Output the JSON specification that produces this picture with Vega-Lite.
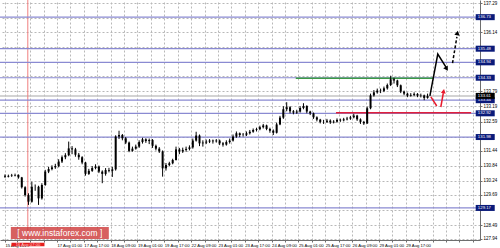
{
  "$schema": "https://vega.github.io/schema/vega-lite/v6.json",
  "width": 480,
  "height": 240,
  "autosize": {"type": "none"},
  "padding": {"left": 0, "top": 0, "right": 20, "bottom": 8},
  "background": "white",
  "config": {"view": {"stroke": null}, "font": "Liberation Sans"},
  "resolve": {"axis": {"x": "independent", "y": "independent"}},
  "datasets": {
    "candles": [
      {"t":0,"o":130.45,"h":130.50,"l":130.36,"c":130.41},
      {"t":2,"o":130.41,"h":130.49,"l":130.38,"c":130.44},
      {"t":4,"o":130.44,"h":130.52,"l":130.40,"c":130.46},
      {"t":6,"o":130.46,"h":130.53,"l":130.42,"c":130.48},
      {"t":8,"o":130.48,"h":130.50,"l":130.33,"c":130.38},
      {"t":10,"o":130.38,"h":130.40,"l":129.94,"c":129.99},
      {"t":12,"o":129.99,"h":130.03,"l":129.62,"c":129.68},
      {"t":14,"o":129.68,"h":129.75,"l":129.29,"c":129.42},
      {"t":16,"o":129.42,"h":130.21,"l":129.38,"c":130.01},
      {"t":18,"o":130.01,"h":130.10,"l":129.85,"c":130.01},
      {"t":20,"o":130.01,"h":130.05,"l":129.29,"c":129.55},
      {"t":22,"o":129.55,"h":130.15,"l":129.50,"c":130.08},
      {"t":24,"o":130.08,"h":130.68,"l":130.05,"c":130.61},
      {"t":26,"o":130.61,"h":130.80,"l":130.55,"c":130.71},
      {"t":28,"o":130.71,"h":130.86,"l":130.66,"c":130.78},
      {"t":30,"o":130.78,"h":130.92,"l":130.72,"c":130.83},
      {"t":32,"o":130.83,"h":131.10,"l":130.78,"c":131.01},
      {"t":34,"o":131.01,"h":131.25,"l":130.95,"c":131.18},
      {"t":36,"o":131.18,"h":131.34,"l":131.10,"c":131.26},
      {"t":38,"o":131.26,"h":131.80,"l":131.22,"c":131.53},
      {"t":40,"o":131.53,"h":131.62,"l":131.30,"c":131.49},
      {"t":42,"o":131.49,"h":131.55,"l":131.20,"c":131.28},
      {"t":44,"o":131.28,"h":131.35,"l":131.08,"c":131.18},
      {"t":46,"o":131.18,"h":131.22,"l":130.90,"c":130.97},
      {"t":48,"o":130.97,"h":131.00,"l":130.45,"c":130.52},
      {"t":50,"o":130.52,"h":130.72,"l":130.48,"c":130.64},
      {"t":52,"o":130.64,"h":130.83,"l":130.60,"c":130.75},
      {"t":54,"o":130.75,"h":130.90,"l":130.70,"c":130.81},
      {"t":56,"o":130.81,"h":130.85,"l":130.55,"c":130.61},
      {"t":58,"o":130.61,"h":130.66,"l":130.15,"c":130.52},
      {"t":60,"o":130.52,"h":130.75,"l":130.45,"c":130.67},
      {"t":62,"o":130.67,"h":130.76,"l":130.58,"c":130.64},
      {"t":64,"o":130.64,"h":130.80,"l":130.40,"c":130.70},
      {"t":66,"o":130.70,"h":132.05,"l":130.65,"c":132.00},
      {"t":68,"o":132.00,"h":132.23,"l":131.90,"c":132.06},
      {"t":70,"o":132.06,"h":132.10,"l":131.85,"c":131.93},
      {"t":72,"o":131.93,"h":131.98,"l":131.70,"c":131.76},
      {"t":74,"o":131.76,"h":131.80,"l":131.38,"c":131.43},
      {"t":76,"o":131.43,"h":131.60,"l":131.40,"c":131.52},
      {"t":78,"o":131.52,"h":131.68,"l":131.48,"c":131.60},
      {"t":80,"o":131.60,"h":131.85,"l":131.55,"c":131.78},
      {"t":82,"o":131.78,"h":131.95,"l":131.72,"c":131.89},
      {"t":84,"o":131.89,"h":131.93,"l":131.75,"c":131.82},
      {"t":86,"o":131.82,"h":131.92,"l":131.70,"c":131.86},
      {"t":88,"o":131.86,"h":131.90,"l":131.55,"c":131.63},
      {"t":90,"o":131.63,"h":131.68,"l":131.45,"c":131.52},
      {"t":92,"o":131.52,"h":131.58,"l":131.35,"c":131.41},
      {"t":94,"o":131.41,"h":131.45,"l":130.41,"c":130.74},
      {"t":96,"o":130.74,"h":130.95,"l":130.65,"c":130.87},
      {"t":98,"o":130.87,"h":131.00,"l":130.82,"c":130.94},
      {"t":100,"o":130.94,"h":131.12,"l":130.90,"c":131.07},
      {"t":102,"o":131.07,"h":131.60,"l":131.05,"c":131.49},
      {"t":104,"o":131.49,"h":131.55,"l":131.30,"c":131.41},
      {"t":106,"o":131.41,"h":131.56,"l":131.35,"c":131.47},
      {"t":108,"o":131.47,"h":131.60,"l":131.40,"c":131.51},
      {"t":110,"o":131.51,"h":131.65,"l":131.45,"c":131.57},
      {"t":112,"o":131.57,"h":131.92,"l":131.52,"c":131.84},
      {"t":114,"o":131.84,"h":132.19,"l":131.80,"c":132.04},
      {"t":116,"o":132.04,"h":132.08,"l":131.62,"c":131.73},
      {"t":118,"o":131.73,"h":131.85,"l":131.60,"c":131.76},
      {"t":120,"o":131.76,"h":131.88,"l":131.70,"c":131.80},
      {"t":122,"o":131.80,"h":131.90,"l":131.74,"c":131.84},
      {"t":124,"o":131.84,"h":131.88,"l":131.72,"c":131.81},
      {"t":126,"o":131.81,"h":131.90,"l":131.76,"c":131.84},
      {"t":128,"o":131.84,"h":131.88,"l":131.66,"c":131.73},
      {"t":130,"o":131.73,"h":131.78,"l":131.60,"c":131.68},
      {"t":132,"o":131.68,"h":131.85,"l":131.64,"c":131.78},
      {"t":134,"o":131.78,"h":131.92,"l":131.72,"c":131.84},
      {"t":136,"o":131.84,"h":132.08,"l":131.80,"c":132.00},
      {"t":138,"o":132.00,"h":132.20,"l":131.95,"c":132.13},
      {"t":140,"o":132.13,"h":132.16,"l":131.98,"c":132.06},
      {"t":142,"o":132.06,"h":132.14,"l":132.00,"c":132.07},
      {"t":144,"o":132.07,"h":132.20,"l":132.02,"c":132.13},
      {"t":146,"o":132.13,"h":132.26,"l":132.08,"c":132.19},
      {"t":148,"o":132.19,"h":132.32,"l":132.15,"c":132.26},
      {"t":150,"o":132.26,"h":132.35,"l":132.20,"c":132.29},
      {"t":152,"o":132.29,"h":132.43,"l":132.25,"c":132.37},
      {"t":154,"o":132.37,"h":132.50,"l":132.32,"c":132.44},
      {"t":156,"o":132.44,"h":132.47,"l":132.25,"c":132.30},
      {"t":158,"o":132.30,"h":132.35,"l":132.15,"c":132.23},
      {"t":160,"o":132.23,"h":132.28,"l":132.06,"c":132.15},
      {"t":162,"o":132.15,"h":132.55,"l":132.12,"c":132.48},
      {"t":164,"o":132.48,"h":132.82,"l":132.45,"c":132.75},
      {"t":166,"o":132.75,"h":133.20,"l":132.70,"c":133.08},
      {"t":168,"o":133.08,"h":133.36,"l":133.00,"c":133.16},
      {"t":170,"o":133.16,"h":133.20,"l":132.92,"c":133.00},
      {"t":172,"o":133.00,"h":133.05,"l":132.88,"c":132.95},
      {"t":174,"o":132.95,"h":133.06,"l":132.90,"c":132.99},
      {"t":176,"o":132.99,"h":133.20,"l":132.95,"c":133.13},
      {"t":178,"o":133.13,"h":133.32,"l":133.08,"c":133.21},
      {"t":180,"o":133.21,"h":133.24,"l":132.92,"c":132.99},
      {"t":182,"o":132.99,"h":133.02,"l":132.85,"c":132.92},
      {"t":184,"o":132.92,"h":132.95,"l":132.70,"c":132.76},
      {"t":186,"o":132.76,"h":132.80,"l":132.60,"c":132.67},
      {"t":188,"o":132.67,"h":132.70,"l":132.52,"c":132.58},
      {"t":190,"o":132.58,"h":132.66,"l":132.50,"c":132.58},
      {"t":192,"o":132.58,"h":132.70,"l":132.54,"c":132.63},
      {"t":194,"o":132.63,"h":132.68,"l":132.50,"c":132.56},
      {"t":196,"o":132.56,"h":132.65,"l":132.52,"c":132.59},
      {"t":198,"o":132.59,"h":132.72,"l":132.55,"c":132.66},
      {"t":200,"o":132.66,"h":132.71,"l":132.58,"c":132.64},
      {"t":202,"o":132.64,"h":132.74,"l":132.60,"c":132.68},
      {"t":204,"o":132.68,"h":132.78,"l":132.64,"c":132.71},
      {"t":206,"o":132.71,"h":132.82,"l":132.66,"c":132.76},
      {"t":208,"o":132.76,"h":132.90,"l":132.72,"c":132.83},
      {"t":210,"o":132.83,"h":132.86,"l":132.62,"c":132.68},
      {"t":212,"o":132.68,"h":132.72,"l":132.50,"c":132.58},
      {"t":214,"o":132.58,"h":132.62,"l":132.46,"c":132.52},
      {"t":216,"o":132.52,"h":133.18,"l":132.50,"c":133.12},
      {"t":218,"o":133.12,"h":133.70,"l":133.08,"c":133.63},
      {"t":220,"o":133.63,"h":133.84,"l":133.58,"c":133.75},
      {"t":222,"o":133.75,"h":133.90,"l":133.70,"c":133.82},
      {"t":224,"o":133.82,"h":133.90,"l":133.72,"c":133.81},
      {"t":226,"o":133.81,"h":133.98,"l":133.76,"c":133.91},
      {"t":228,"o":133.91,"h":134.10,"l":133.86,"c":134.04},
      {"t":230,"o":134.04,"h":134.41,"l":134.00,"c":134.27},
      {"t":232,"o":134.27,"h":134.33,"l":134.10,"c":134.22},
      {"t":234,"o":134.22,"h":134.25,"l":133.96,"c":134.03},
      {"t":236,"o":134.03,"h":134.06,"l":133.72,"c":133.78},
      {"t":238,"o":133.78,"h":133.82,"l":133.64,"c":133.70},
      {"t":240,"o":133.70,"h":133.74,"l":133.56,"c":133.62},
      {"t":242,"o":133.62,"h":133.72,"l":133.58,"c":133.65},
      {"t":244,"o":133.65,"h":133.75,"l":133.60,"c":133.69},
      {"t":246,"o":133.69,"h":133.72,"l":133.56,"c":133.62},
      {"t":248,"o":133.62,"h":133.70,"l":133.55,"c":133.63},
      {"t":250,"o":133.63,"h":133.66,"l":133.44,"c":133.53},
      {"t":252,"o":133.53,"h":133.70,"l":133.50,"c":133.61}
    ],
    "levels": [
      {"level":136.73},{"level":135.48},{"level":134.94},{"level":134.33},
      {"level":133.44},{"level":132.92},{"level":131.98},{"level":129.17}
    ]
  },
  "layer": [
    {
      "data": {"values": [{"price": 133.61}]},
      "mark": {"type": "rule", "color": "#c4c4c4", "strokeWidth": 1.5},
      "encoding": {
        "y": {"field": "price", "type": "quantitative", "scale": {"domain": [127.90, 137.41], "nice": false, "zero": false},
          "axis": {"orient": "right", "title": null,
            "values": [127.94,128.49,129.09,129.69,130.24,130.84,131.44,131.99,132.59,133.19,133.79,134.39,134.94,135.54,136.14,136.69,137.29],
            "labelExpr": "indexof([129.09,131.99,134.39,134.94,135.54,136.69], datum.value) >= 0 ? '' : format(datum.value, '.2f')",
            "grid": true, "gridColor": "#b8b8b8", "gridDash": [2, 2], "gridWidth": 1,
            "domainColor": "#6e6e6e", "domainWidth": 1, "tickColor": "#6e6e6e", "tickSize": 2,
            "labelFontSize": 4.5, "labelColor": "#000000", "labelPadding": 1, "labelAlign": "left", "labelBaseline": "middle",
            "labelOverlap": false, "labelFlush": false, "labelBound": false}}
      }
    },
    {
      "data": {"values": [{"t": 13.6}]},
      "mark": {"type": "rule", "color": "#f07f7f", "strokeWidth": 1},
      "encoding": {
        "x": {"field": "t", "type": "quantitative", "scale": {"domain": [0, 280.3], "nice": false, "zero": false},
          "axis": {"orient": "bottom", "title": null,
            "values": [0,7,15,23,31,39,47,55,63,71,79,87,95,103,111,119,127,135,143,151,159,167,175,183,191,199,207,215,223,231,239,247,255,263,271,279],
            "labelExpr": "datum.value == 0 ? '15 Aug 2016' : (datum.value >= 31 && datum.value <= 239 && (datum.value + 1) % 16 == 0 ? ['17 Aug 01:00','17 Aug 17:00','18 Aug 09:00','19 Aug 01:00','19 Aug 17:00','22 Aug 09:00','23 Aug 01:00','23 Aug 17:00','24 Aug 09:00','25 Aug 01:00','25 Aug 17:00','26 Aug 09:00','29 Aug 01:00','29 Aug 17:00'][(datum.value - 31) / 16] : '')",
            "grid": true, "gridColor": "#b8b8b8", "gridDash": [2, 2], "gridWidth": 1,
            "domainColor": "#6e6e6e", "domainWidth": 1, "tickColor": "#6e6e6e", "tickSize": 2,
            "labelFontSize": 4.2, "labelColor": "#000000", "labelPadding": 1, "labelAlign": "left", "labelBaseline": "top",
            "labelOverlap": false, "labelFlush": false, "labelBound": false}}
      }
    },
    {
      "data": {"name": "levels"},
      "mark": {"type": "rule", "color": "#8a8ad2", "strokeWidth": 1.2},
      "encoding": {"y": {"field": "level", "type": "quantitative", "axis": null}}
    },
    {
      "data": {"values": [{"t0": 173.4, "t1": 255.2, "p": 134.31}]},
      "mark": {"type": "rule", "color": "#3c9a46", "strokeWidth": 1.6},
      "encoding": {
        "x": {"field": "t0", "type": "quantitative", "axis": null},
        "x2": {"field": "t1"},
        "y": {"field": "p", "type": "quantitative", "axis": null}
      }
    },
    {
      "data": {"values": [{"t0": 197.4, "t1": 278.0, "p": 132.94}]},
      "mark": {"type": "rule", "color": "#e0203c", "strokeWidth": 1.6},
      "encoding": {
        "x": {"field": "t0", "type": "quantitative", "axis": null},
        "x2": {"field": "t1"},
        "y": {"field": "p", "type": "quantitative", "axis": null}
      }
    },
    {
      "data": {"name": "candles"},
      "mark": {"type": "rule", "color": "#000000", "strokeWidth": 1, "clip": true},
      "encoding": {
        "x": {"field": "t", "type": "quantitative", "axis": null},
        "y": {"field": "l", "type": "quantitative", "axis": null},
        "y2": {"field": "h"}
      }
    },
    {
      "data": {"name": "candles"},
      "mark": {"type": "bar", "width": 2, "color": "#000000", "clip": true},
      "encoding": {
        "x": {"field": "t", "type": "quantitative", "axis": null},
        "y": {"field": "o", "type": "quantitative", "axis": null},
        "y2": {"field": "c"}
      }
    },
    {
      "data": {"values": [{"t": 253.4, "p": 133.61}, {"t": 258.1, "p": 135.27}, {"t": 263.0, "p": 134.75}]},
      "mark": {"type": "line", "color": "#000000", "strokeWidth": 1.5},
      "encoding": {
        "x": {"field": "t", "type": "quantitative", "axis": null},
        "y": {"field": "p", "type": "quantitative", "axis": null}
      }
    },
    {
      "data": {"values": [{"t": 266.9, "p": 134.91}, {"t": 269.5, "p": 135.95}]},
      "mark": {"type": "line", "color": "#000000", "strokeWidth": 1.5, "strokeDash": [3, 2]},
      "encoding": {
        "x": {"field": "t", "type": "quantitative", "axis": null},
        "y": {"field": "p", "type": "quantitative", "axis": null}
      }
    },
    {
      "data": {"values": [{"seg": "a", "t": 254.0, "p": 133.57}, {"seg": "a", "t": 257.5, "p": 133.21}, {"seg": "b", "t": 259.9, "p": 133.17}, {"seg": "b", "t": 261.4, "p": 133.72}]},
      "mark": {"type": "line", "color": "#e8192c", "strokeWidth": 1.5},
      "encoding": {
        "x": {"field": "t", "type": "quantitative", "axis": null},
        "y": {"field": "p", "type": "quantitative", "axis": null},
        "detail": {"field": "seg"}
      }
    },
    {
      "data": {"values": [{"t": 263.4, "p": 134.68}]},
      "mark": {"type": "point", "shape": "triangle-up", "angle": 149, "filled": true, "color": "#000000", "size": 28, "opacity": 1},
      "encoding": {
        "x": {"field": "t", "type": "quantitative", "axis": null},
        "y": {"field": "p", "type": "quantitative", "axis": null}
      }
    },
    {
      "data": {"values": [{"t": 269.8, "p": 136.10}]},
      "mark": {"type": "point", "shape": "triangle-up", "angle": 10, "filled": true, "color": "#000000", "size": 28, "opacity": 1},
      "encoding": {
        "x": {"field": "t", "type": "quantitative", "axis": null},
        "y": {"field": "p", "type": "quantitative", "axis": null}
      }
    },
    {
      "data": {"values": [{"t": 261.6, "p": 133.80}]},
      "mark": {"type": "point", "shape": "triangle-up", "angle": 11, "filled": true, "color": "#e8192c", "size": 24, "opacity": 1},
      "encoding": {
        "x": {"field": "t", "type": "quantitative", "axis": null},
        "y": {"field": "p", "type": "quantitative", "axis": null}
      }
    },
    {
      "data": {"name": "levels"},
      "mark": {"type": "point", "shape": "M-1,-0.316L1,-0.316L1,0.316L-1,0.316Z", "filled": true, "color": "#0a1a7a", "size": 361, "opacity": 1},
      "encoding": {
        "x": {"datum": 286.4, "type": "quantitative", "axis": null},
        "y": {"field": "level", "type": "quantitative", "axis": null}
      }
    },
    {
      "data": {"name": "levels"},
      "mark": {"type": "text", "color": "#ffffff", "fontSize": 4.3, "align": "left", "baseline": "middle"},
      "encoding": {
        "x": {"datum": 282.0, "type": "quantitative", "axis": null},
        "y": {"field": "level", "type": "quantitative", "axis": null},
        "text": {"field": "level", "type": "quantitative", "format": ".2f"}
      }
    },
    {
      "data": {"values": [{"price": 133.61}]},
      "mark": {"type": "point", "shape": "M-1,-0.316L1,-0.316L1,0.316L-1,0.316Z", "filled": true, "color": "#000000", "size": 361, "opacity": 1},
      "encoding": {
        "x": {"datum": 286.4, "type": "quantitative", "axis": null},
        "y": {"field": "price", "type": "quantitative", "axis": null}
      }
    },
    {
      "data": {"values": [{"price": 133.61}]},
      "mark": {"type": "text", "color": "#ffffff", "fontSize": 4.3, "align": "left", "baseline": "middle"},
      "encoding": {
        "x": {"datum": 282.0, "type": "quantitative", "axis": null},
        "y": {"field": "price", "type": "quantitative", "axis": null},
        "text": {"field": "price", "type": "quantitative", "format": ".2f"}
      }
    },
    {
      "data": {"values": [{"t": 13.7, "p": 127.72, "label": "16 Aug 07:00"}]},
      "mark": {"type": "point", "shape": "M-1,-0.106L1,-0.106L1,0.106L-1,0.106Z", "filled": true, "color": "#e41e1e", "size": 1089, "opacity": 1},
      "encoding": {
        "x": {"field": "t", "type": "quantitative", "axis": null},
        "y": {"field": "p", "type": "quantitative", "axis": null}
      }
    },
    {
      "data": {"values": [{"t": 13.7, "p": 127.72, "label": "16 Aug 07:00"}]},
      "mark": {"type": "text", "color": "#ffd0d0", "fontSize": 4.2, "align": "center", "baseline": "middle"},
      "encoding": {
        "x": {"field": "t", "type": "quantitative", "axis": null},
        "y": {"field": "p", "type": "quantitative", "axis": null},
        "text": {"field": "label"}
      }
    },
    {
      "data": {"values": [{"t": 32.7, "p": 128.18, "label": "[  www.instaforex.com  ]"}]},
      "mark": {"type": "point", "shape": "M-1,-0.1224L1,-0.1224L1,0.1224L-1,0.1224Z", "filled": true, "color": "#cc3333", "size": 9604, "opacity": 0.78},
      "encoding": {
        "x": {"field": "t", "type": "quantitative", "axis": null},
        "y": {"field": "p", "type": "quantitative", "axis": null}
      }
    },
    {
      "data": {"values": [{"t": 32.7, "p": 128.18, "label": "[  www.instaforex.com  ]"}]},
      "mark": {"type": "text", "color": "#ffffff", "fontSize": 8.5, "align": "center", "baseline": "middle"},
      "encoding": {
        "x": {"field": "t", "type": "quantitative", "axis": null},
        "y": {"field": "p", "type": "quantitative", "axis": null},
        "text": {"field": "label"}
      }
    }
  ]
}
